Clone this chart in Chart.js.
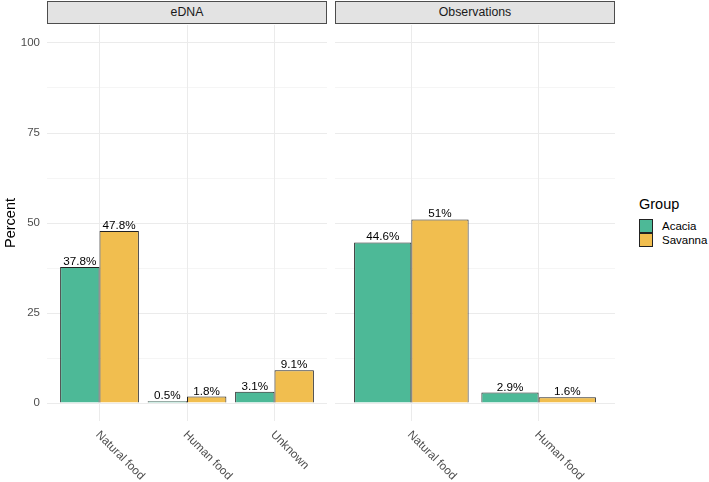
<!DOCTYPE html>
<html>
<head>
<meta charset="utf-8">
<script src="https://cdn.jsdelivr.net/npm/chart.js@4/dist/chart.umd.min.js"></script>
<style>
  body { margin: 0; background: #fff; font-family: "Liberation Sans", Arial, sans-serif; }
  #wrap { position: relative; width: 709px; height: 482px; overflow: hidden; }
  canvas { position: absolute; top: 0; }
  .strip { position: absolute; top: 1px; height: 21px; line-height: 21px; background: #e3e3e3;
           border: 1px solid #4d4d4d; font-size: 12.3px; color: #1a1a1a; text-align: center; }
  .key { position: absolute; left: 639px; width: 12px; height: 12px; border: 1px solid #222; }
  .klab { position: absolute; left: 662px; font-size: 11.5px; line-height: 14px; color: #000; }
</style>
</head>
<body>
<div id="wrap">
  <canvas id="left" width="330" height="482" style="left:0"></canvas>
  <canvas id="right" width="280" height="482" style="left:335px"></canvas>
  <div class="strip" style="left:47px;width:278px">eDNA</div>
  <div class="strip" style="left:335px;width:278px">Observations</div>
  <div style="position:absolute;left:639px;top:196px;font-size:14.5px;line-height:17px;color:#000">Group</div>
  <div class="key" style="top:219px;background:#4DB997"></div>
  <div class="key" style="top:233px;background:#F1BE4F"></div>
  <div class="klab" style="top:219px">Acacia</div>
  <div class="klab" style="top:233px">Savanna</div>
</div>
<script>
const groups = ['Acacia', 'Savanna'];
const colors = ['#4DB997', '#F1BE4F'];

const ednaCats = ['Natural food', 'Human food', 'Unknown'];
const ednaAcacia = [37.8, 0.5, 3.1];
const ednaSavanna = [47.8, 1.8, 9.1];

const obsCats = ['Natural food', 'Human food'];
const obsAcacia = [44.6, 2.9];
const obsSavanna = [51, 1.6];

const yTicks = [0, 12.5, 25, 37.5, 50, 62.5, 75, 87.5, 100];
const yLabels = [0, 25, 50, 75, 100];

const FONT = '"Liberation Sans", Arial, sans-serif';

// percent labels above each bar
const barLabels = {
  id: 'barLabels',
  afterDatasetsDraw(chart) {
    const ctx = chart.ctx;
    ctx.save();
    ctx.font = '11.7px ' + FONT;
    ctx.fillStyle = '#000';
    ctx.textAlign = 'center';
    ctx.textBaseline = 'alphabetic';
    chart.data.datasets.forEach((ds, di) => {
      chart.getDatasetMeta(di).data.forEach((el, i) => {
        ctx.fillText(ds.data[i].y + '%', el.x, el.y - 2);
      });
    });
    ctx.restore();
  }
};

// category names, rotated down to the right
const xLabels = {
  id: 'xLabels',
  afterDraw(chart, args, opts) {
    const sc = chart.scales.x, ctx = chart.ctx;
    ctx.save();
    ctx.font = '11.7px ' + FONT;
    ctx.fillStyle = '#4d4d4d';
    ctx.textAlign = 'left';
    ctx.textBaseline = 'middle';
    opts.cats.forEach((c, i) => {
      ctx.save();
      ctx.translate(sc.getPixelForValue(i + 1) - 2, chart.chartArea.bottom + 12);
      ctx.rotate(Math.PI / 4);
      ctx.fillText(c, 0, 0);
      ctx.restore();
    });
    ctx.restore();
  }
};

function makeChart(id, cats, acacia, savanna, isLeft) {
  const sets = [acacia, savanna].map((vals, k) => ({
    label: groups[k],
    data: vals.map((v, i) => ({ x: i + 1, y: v })),
    backgroundColor: colors[k],
    borderColor: '#222',
    borderWidth: 1,
    categoryPercentage: 0.9,
    barPercentage: 1.0
  }));
  return new Chart(document.getElementById(id), {
    type: 'bar',
    data: { datasets: sets },
    plugins: [barLabels, xLabels],
    options: {
      responsive: false,
      animation: false,
      layout: { padding: { top: 25, right: isLeft ? 3 : 0, left: 0, bottom: 0 } },
      plugins: {
        legend: { display: false },
        tooltip: { enabled: false },
        xLabels: { cats: cats }
      },
      scales: {
        x: {
          type: 'linear',
          min: 0.4,
          max: cats.length + 0.6,
          offset: false,
          afterBuildTicks: sc => { sc.ticks = cats.map((c, i) => ({ value: i + 1 })); },
          ticks: { display: false },
          grid: { color: '#ebebeb', lineWidth: 1, drawTicks: false, offset: false },
          border: { display: false },
          afterFit: sc => { sc.height = 61; }
        },
        y: {
          min: -5,
          max: 105,
          afterBuildTicks: sc => { sc.ticks = yTicks.map(v => ({ value: v })); },
          ticks: {
            display: isLeft,
            padding: 7,
            color: '#4d4d4d',
            font: { size: 11.5, family: FONT },
            callback: v => yLabels.includes(v) ? v : ''
          },
          grid: {
            color: '#ebebeb',
            lineWidth: c => yLabels.includes(c.tick.value) ? 1 : 0.5,
            drawTicks: false
          },
          border: { display: false },
          title: {
            display: isLeft,
            text: 'Percent',
            color: '#000',
            font: { size: 14.5, family: FONT },
            padding: { top: 2, bottom: 0 }
          },
          afterFit: sc => { sc.width = isLeft ? 47 : 0; }
        }
      }
    }
  });
}

makeChart('left', ednaCats, ednaAcacia, ednaSavanna, true);
makeChart('right', obsCats, obsAcacia, obsSavanna, false);
</script>
</body>
</html>
